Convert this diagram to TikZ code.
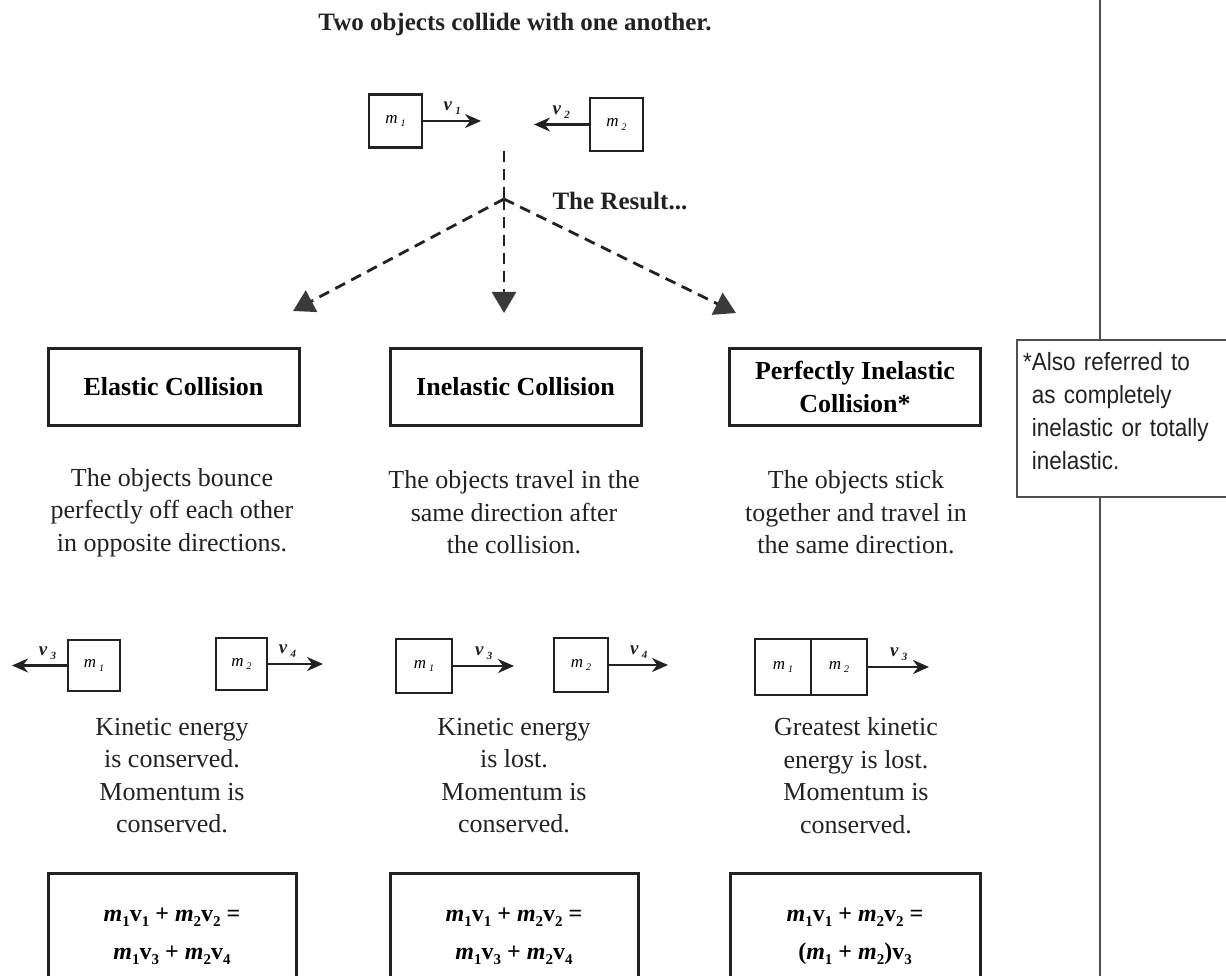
\documentclass[tikz,border=0pt]{standalone}
\usepackage{fontspec}
\setmainfont{Liberation Serif}
\newfontfamily\notefont[FakeStretch=0.9,WordSpace=0.8]{Liberation Sans}
\usetikzlibrary{arrows.meta}
\definecolor{ink}{HTML}{222222}
\definecolor{tipgray}{HTML}{3A3A3A}
\definecolor{notegray}{HTML}{505050}
\newcommand{\eqm}[1]{\textbf{\textit{m}}\raisebox{-0.45ex}{\fontsize{15}{15}\selectfont\bfseries #1}}
\newcommand{\eqv}[1]{\textbf{v}\raisebox{-0.45ex}{\fontsize{15}{15}\selectfont\bfseries #1}}
\newcommand{\boxm}[1]{\textit{m}\,\raisebox{-0.45ex}{\fontsize{10}{10}\selectfont\textit{#1}}}
\newcommand{\vel}[1]{\textbf{\textit{v}}\,\raisebox{-0.45ex}{\fontsize{11}{11}\selectfont\bfseries\textit{#1}}}
\begin{document}
\begin{tikzpicture}[x=1pt,y=-1pt,
  mass/.style={draw=ink, line width=2.8pt, minimum width=53pt, minimum height=53pt, inner sep=0pt, font=\fontsize{17}{17}\selectfont},
  hdr/.style={draw=ink, line width=3pt, minimum width=251pt, minimum height=77pt, align=center, font=\fontsize{26}{33}\selectfont\bfseries},
  desc/.style={align=center, inner sep=0pt, text=ink, font=\fontsize{26}{32.5}\selectfont},
  eqbox/.style={draw=ink, line width=3pt, minimum width=248pt, align=center, inner ysep=30pt, text height=56pt, text depth=90pt, font=\fontsize{24}{38}\selectfont\bfseries},
  velarr/.style={draw=ink, line width=2.6pt, -{Stealth[length=16pt,width=14pt]}},
  vlab/.style={font=\fontsize{19}{19}\selectfont, inner sep=2pt, text=ink},
  dashline/.style={draw=ink, line width=2.8pt, dash pattern=on 11pt off 7pt},
  dasharr/.style={dashline, -{Triangle[length=21pt,width=24pt,color=tipgray]}},
  notebox/.style={draw=notegray, line width=1.8pt, anchor=north west, minimum width=240pt, text width=210pt, inner xsep=15pt, inner ysep=13pt, text height=18pt, text depth=113pt, align=left, text=ink, font=\notefont\fontsize{25}{32.7}\selectfont},
  bold/.style={font=\fontsize{25}{30}\selectfont\bfseries, text=ink}
]
\useasboundingbox (0,0) rectangle (1226,976);

% title
\node[bold] (title) at (515,24) {Two objects collide with one another.};

% top masses
\node[mass] (m1t) at (395.5,121) {\boxm{1}};
\node[mass] (m2t) at (616.5,124.5) {\boxm{2}};
\coordinate (v1e) at (481,121);
\coordinate (v2e) at (534,124.5);
\draw[velarr] (m1t.east) -- (v1e) node[midway, above=3pt, vlab] {\vel{1}};
\draw[velarr] (m2t.west) -- (v2e) node[midway, above=3pt, vlab] {\vel{2}};

% dashed arrows
\coordinate (dtop) at (504,151);
\coordinate (j) at (504,199);
\coordinate (dEnd) at (504,313);
\coordinate (lEnd) at (293,311);
\coordinate (rEnd) at (736,313);
\draw[dashline] (dtop) -- (j);
\draw[dasharr] (j) -- (dEnd);
\draw[dasharr] (j) -- (lEnd);
\draw[dasharr] (j) -- (rEnd);
\node[bold, anchor=west] (result) at (549,201) {The Result...};

% header boxes
\node[hdr] (elastic) at (173.5,386.5) {Elastic Collision};
\node[hdr] (inelastic) at (515.5,386.5) {Inelastic Collision};
\node[hdr] (perfect) at (855,386.5) {Perfectly Inelastic\\Collision*};

% note
\node[notebox] (note) at (1016,339) {\llap{*}Also referred to\\as completely\\inelastic or totally\\inelastic.};
\coordinate (vtop) at (1100,0);
\coordinate (vbot) at (1100,976);
\draw[notegray, line width=1.8pt] (vtop) -- (vtop |- note.north);
\draw[notegray, line width=1.8pt] (vbot |- note.south) -- (vbot);

% descriptions
\node[desc] (d1) at (172,512.5) {The objects bounce\\perfectly off each other\\in opposite directions.};
\node[desc] (d2) at (514,512.5) {The objects travel in the\\same direction after\\the collision.};
\node[desc] (d3) at (856,512.5) {The objects stick\\together and travel in\\the same direction.};

% elastic after
\node[mass, minimum width=52pt, minimum height=51pt] (e1) at (94,665.5) {\boxm{1}};
\node[mass, minimum width=51pt, minimum height=52pt] (e2) at (241.5,664) {\boxm{2}};
\coordinate (e1v) at (12,665.5);
\coordinate (e2v) at (323,664);
\draw[velarr] (e1.west) -- (e1v) node[pos=0.35, above=3pt, vlab] {\vel{3}};
\draw[velarr] (e2.east) -- (e2v) node[pos=0.35, above=3pt, vlab] {\vel{4}};

% inelastic after
\node[mass, minimum width=56pt, minimum height=54pt] (i1) at (424,666) {\boxm{1}};
\node[mass, minimum width=54pt, minimum height=54pt] (i2) at (581,665) {\boxm{2}};
\coordinate (i1v) at (514,666);
\coordinate (i2v) at (668,665);
\draw[velarr] (i1.east) -- (i1v) node[midway, above=3pt, vlab] {\vel{3}};
\draw[velarr] (i2.east) -- (i2v) node[midway, above=3pt, vlab] {\vel{4}};

% perfectly inelastic after
\node[mass, minimum width=56pt, minimum height=56pt] (p1) at (783,667) {\boxm{1}};
\node[mass, minimum width=56pt, minimum height=56pt] (p2) at (839,667) {\boxm{2}};
\coordinate (pv) at (929,667);
\draw[velarr] (p2.east) -- (pv) node[midway, above=3pt, vlab] {\vel{3}};

% outcomes
\node[desc] (o1) at (172,775.5) {Kinetic energy\\is conserved.\\Momentum is\\conserved.};
\node[desc] (o2) at (514,775.5) {Kinetic energy\\is lost.\\Momentum is\\conserved.};
\node[desc] (o3) at (856,775.5) {Greatest kinetic\\energy is lost.\\Momentum is\\conserved.};

% equations
\node[eqbox, anchor=north] (q1) at (172,872) {\eqm{1}\eqv{1} + \eqm{2}\eqv{2} =\\\eqm{1}\eqv{3} + \eqm{2}\eqv{4}};
\node[eqbox, anchor=north] (q2) at (514,872) {\eqm{1}\eqv{1} + \eqm{2}\eqv{2} =\\\eqm{1}\eqv{3} + \eqm{2}\eqv{4}};
\node[eqbox, anchor=north, minimum width=250pt] (q3) at (855,872) {\eqm{1}\eqv{1} + \eqm{2}\eqv{2} =\\(\eqm{1} + \eqm{2})\eqv{3}};
\end{tikzpicture}
\end{document}
